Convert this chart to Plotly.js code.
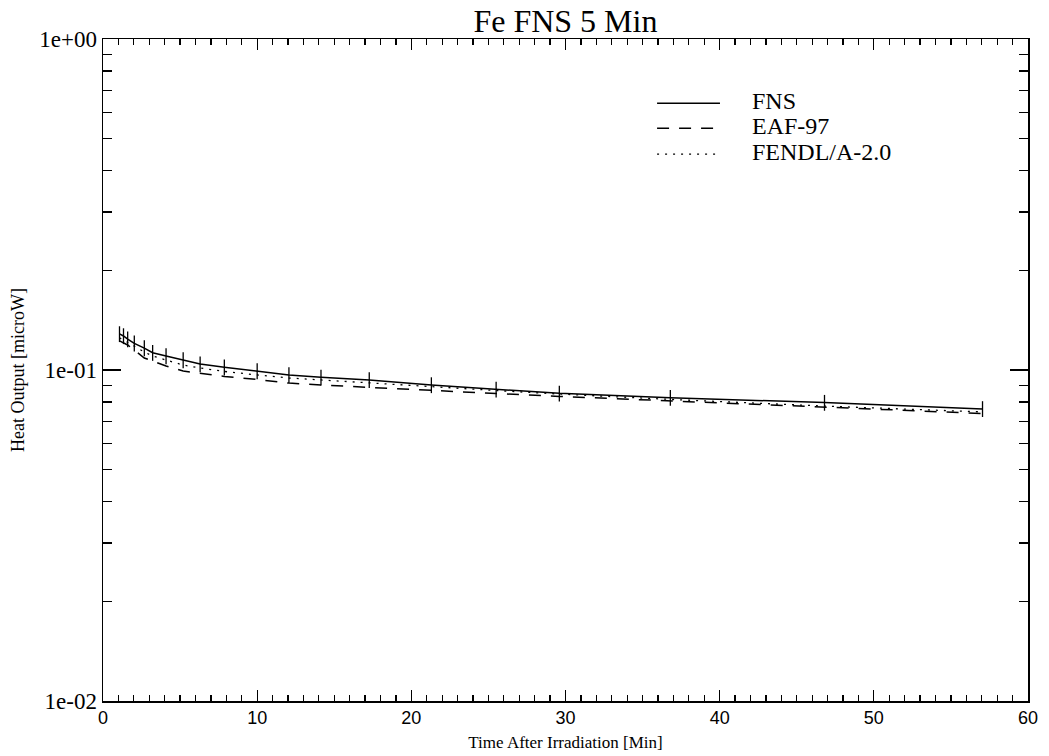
<!DOCTYPE html>
<html>
<head>
<meta charset="utf-8">
<script src="https://cdn.plot.ly/plotly-3.0.1.min.js"></script>
<style>html,body{margin:0;padding:0;background:#fff;}#chart{width:1049px;height:756px;}</style>
</head>
<body>
<div id="chart"></div>
<script>
// Time after irradiation [min]
const timeMin = [1.07, 1.33, 1.6, 2.03, 2.68, 3.22, 4.09, 5.2, 6.3, 7.87, 10.0, 12.06, 14.14, 17.27, 21.3, 25.5, 29.6, 36.8, 46.8, 57.05];
// Measured FNS heat output [microW]
const fnsValues = [0.1285, 0.1267, 0.1239, 0.1204, 0.1165, 0.1128, 0.1102, 0.1072, 0.1042, 0.1019, 0.0993, 0.0966, 0.0950, 0.0933, 0.0901, 0.0874, 0.0850, 0.0825, 0.0797, 0.0763];
// Relative uncertainty of FNS points [%]
const fnsErrorPct = 5.5;
// EAF-97 calculation
const eafValues = [0.1224, 0.1205, 0.1190, 0.1149, 0.1087, 0.1065, 0.1028, 0.0993, 0.0976, 0.0956, 0.0936, 0.0913, 0.0901, 0.0886, 0.0864, 0.0849, 0.0832, 0.0806, 0.0770, 0.0739];
// FENDL/A-2.0 calculation
const fendlValues = [0.1250, 0.1232, 0.1215, 0.1181, 0.1133, 0.1102, 0.1072, 0.1035, 0.1014, 0.0990, 0.0966, 0.0946, 0.0933, 0.0913, 0.0889, 0.0867, 0.0846, 0.0815, 0.0778, 0.0747];

const seriesNames = ['FNS', 'EAF-97', 'FENDL/A-2.0'];
const yTickVals = [1, 0.1, 0.01];
const yTickText = ['1e+00', '1e-01', '1e-02'];

const serif = 'Liberation Serif, Times New Roman, serif';
const sans = 'Liberation Sans, Arial, sans-serif';

const lineStyles = [
  {color: '#000', width: 1.5, dash: 'solid'},
  {color: '#000', width: 1.5, dash: '12px,10px'},
  {color: '#000', width: 1.3, dash: '2px,6px'}
];
const seriesValues = [fnsValues, eafValues, fendlValues];

const traces = seriesValues.map((vals, i) => {
  const t = {x: timeMin, y: vals, name: seriesNames[i], type: 'scatter', mode: 'lines', line: lineStyles[i], showlegend: false};
  if (i === 0) t.error_y = {type: 'percent', value: fnsErrorPct, width: 0, thickness: 1.3, color: '#000'};
  return t;
});

// Hand-placed legend (paper coordinates) to mimic the original long line samples
const legendRowsY = [0.906, 0.868, 0.829];
const shapes = [];
const annotations = [];
seriesNames.forEach((name, i) => {
  shapes.push({type: 'line', xref: 'paper', yref: 'paper', x0: 0.599, x1: 0.667, y0: legendRowsY[i] - 0.003, y1: legendRowsY[i] - 0.003, line: lineStyles[i]});
  annotations.push({xref: 'paper', yref: 'paper', x: 0.699, y: legendRowsY[i], xanchor: 'left', yanchor: 'middle', text: name, showarrow: false, font: {family: serif, size: 24, color: '#000'}});
});

const layout = {
  width: 1049, height: 756,
  paper_bgcolor: '#fff', plot_bgcolor: '#fff',
  margin: {l: 103, r: 21, t: 39, b: 55},
  title: {text: 'Fe FNS 5 Min', font: {family: serif, size: 32, color: '#000'}, x: 0.539, xanchor: 'center', y: 0.973, yanchor: 'middle'},
  showlegend: false,
  shapes: shapes,
  annotations: annotations,
  xaxis: {
    range: [0, 60], tickmode: 'linear', tick0: 0, dtick: 10, ticks: 'inside', ticklen: 11, tickwidth: 1.3, tickcolor: '#000',
    mirror: 'ticks', showline: true, linecolor: '#000', linewidth: 1.5, showgrid: false, zeroline: false,
    minor: {tickmode: 'linear', dtick: 1, ticks: 'inside', ticklen: 6, tickwidth: 1.2, tickcolor: '#000', showgrid: false},
    tickfont: {family: sans, size: 18, color: '#000'},
    title: {text: 'Time After Irradiation [Min]', font: {family: serif, size: 17, color: '#000'}, standoff: 9}
  },
  yaxis: {
    type: 'log', range: [-2, 0], tickvals: yTickVals, ticktext: yTickText, ticks: 'inside', ticklen: 18, tickwidth: 1.3, tickcolor: '#000',
    mirror: 'ticks', showline: true, linecolor: '#000', linewidth: 1.5, showgrid: false, zeroline: false,
    minor: {dtick: 'D1', ticks: 'inside', ticklen: 9, tickwidth: 1.2, tickcolor: '#000', showgrid: false},
    tickfont: {family: serif, size: 23, color: '#000'},
    title: {text: 'Heat Output [microW]', font: {family: serif, size: 18, color: '#000'}, standoff: 10}
  }
};

Plotly.newPlot('chart', traces, layout, {displayModeBar: false, staticPlot: true});
</script>
</body>
</html>
